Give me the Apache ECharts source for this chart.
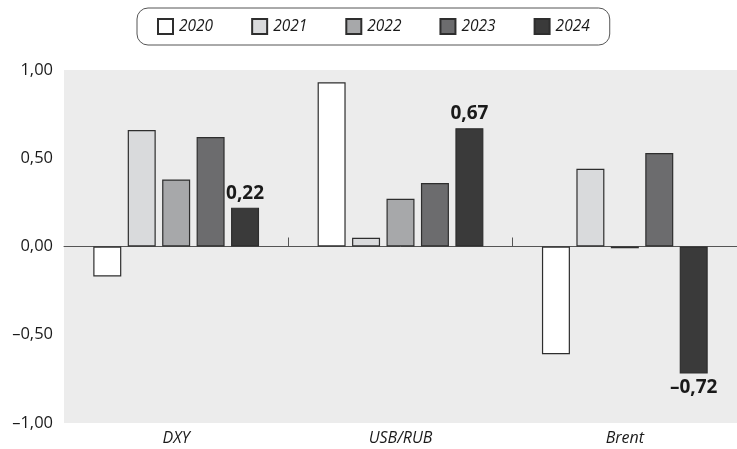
<!DOCTYPE html>
<html>
<head>
<meta charset="utf-8">
<script src="https://cdn.jsdelivr.net/npm/echarts@6/dist/echarts.min.js"></script>
<style>
  html, body { margin: 0; padding: 0; background: #ffffff; }
  #chart { width: 737px; height: 449px; }
</style>
</head>
<body>
<div id="chart"></div>
<script>
// Instruments on the category axis
const categories = ['DXY', 'USB/RUB', 'Brent'];

// Yearly values per instrument
const years = ['2020', '2021', '2022', '2023', '2024'];
const values2020 = [-0.17, 0.93, -0.61];
const values2021 = [0.66, 0.05, 0.44];
const values2022 = [0.38, 0.27, -0.01];
const values2023 = [0.62, 0.36, 0.53];
const values2024 = [0.22, 0.67, -0.72];

// Value axis ticks
const yTicks = [-1, -0.5, 0, 0.5, 1];

const seriesValues = [values2020, values2021, values2022, values2023, values2024];
const fills = ['#ffffff', '#d9dadc', '#a7a8aa', '#6c6c6e', '#3a3a3a'];
const FONT = '"Open Sans", "Noto Sans", sans-serif';

// Decimal comma and an en dash for negatives
function fmt(v, digits) {
  const s = Math.abs(v).toFixed(digits).replace('.', ',');
  return (v < 0 ? '\u2013' : '') + s;
}

const series = years.map((year, i) => ({
  name: year,
  type: 'bar',
  xAxisIndex: 0,
  barWidth: 28,
  barGap: '23%',
  itemStyle: { color: fills[i], borderColor: '#2e2e2e', borderWidth: 1.2 },
  emphasis: { disabled: true },
  data: seriesValues[i].map(v => {
    const item = { value: v };
    if (year === '2024') {
      item.label = {
        show: true,
        position: v < 0 ? 'bottom' : 'top',
        distance: 5,
        formatter: p => fmt(p.value, 2),
        fontFamily: FONT,
        fontWeight: 'bold',
        fontSize: 19,
        color: '#1a1a1a'
      };
    }
    return item;
  })
}));

const chart = echarts.init(document.getElementById('chart'), null, { renderer: 'canvas' });
chart.setOption({
  animation: false,
  backgroundColor: '#ffffff',
  legend: {
    data: years,
    left: 137,
    top: 8,
    padding: [10, 20],
    itemGap: 38,
    itemWidth: 15,
    itemHeight: 15,
    borderColor: '#555555',
    borderWidth: 1,
    borderRadius: 11,
    icon: 'rect',
    textStyle: { fontFamily: FONT, fontStyle: 'italic', fontSize: 15.5, color: '#1a1a1a', padding: [0, 0, 0, 1] }
  },
  grid: {
    left: 64,
    top: 70,
    width: 675,
    height: 353,
    show: true,
    backgroundColor: '#ececec',
    borderWidth: 0
  },
  xAxis: [
    {
      type: 'category',
      data: categories,
      axisLine: { show: true, onZero: true, lineStyle: { color: '#555555', width: 1 } },
      axisTick: { show: true, inside: true, length: 9, interval: (idx) => idx !== 0, lineStyle: { color: '#555555' } },
      axisLabel: { show: false }
    },
    {
      type: 'category',
      data: categories,
      position: 'bottom',
      axisLine: { show: false, onZero: false },
      axisTick: { show: false },
      axisLabel: { show: true, margin: 7, fontFamily: FONT, fontStyle: 'italic', fontSize: 16, color: '#1a1a1a' }
    }
  ],
  yAxis: {
    type: 'value',
    min: yTicks[0],
    max: yTicks[yTicks.length - 1],
    interval: 0.5,
    axisLine: { show: false },
    axisTick: { show: false },
    splitLine: { show: false },
    axisLabel: { margin: 11, fontFamily: FONT, fontSize: 16.5, color: '#1a1a1a', formatter: v => fmt(v, 2) }
  },
  series: series
});
</script>
</body>
</html>
